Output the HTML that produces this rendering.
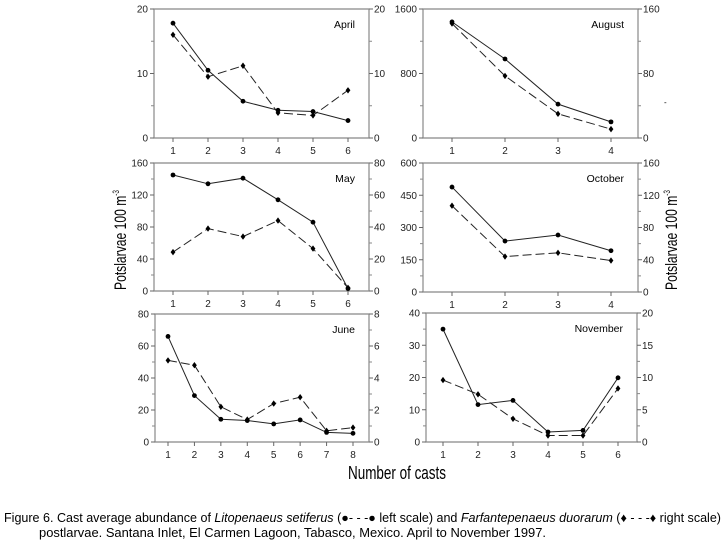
<!DOCTYPE html>
<html><head><meta charset="utf-8"><style>
html,body{margin:0;padding:0;background:#fff}
svg{display:block;font-family:"Liberation Sans Narrow","Liberation Sans",sans-serif}
</style></head><body>
<svg id="fig" width="724" height="546" viewBox="0 0 724 546">
<text x="397" y="479" font-size="18" text-anchor="middle" textLength="98" lengthAdjust="spacingAndGlyphs">Number of casts</text>
<text transform="translate(126,240) rotate(-90)" font-size="17" text-anchor="middle" textLength="100" lengthAdjust="spacingAndGlyphs">Potslarvae 100 m<tspan font-size="9" dy="-7">-3</tspan></text>
<text transform="translate(677,240) rotate(-90)" font-size="17" text-anchor="middle" textLength="100" lengthAdjust="spacingAndGlyphs">Potslarvae 100 m<tspan font-size="9" dy="-7">-3</tspan></text>
<text x="664" y="105" font-size="8">-</text>
<text x="4" y="522" font-size="12.5" textLength="717" lengthAdjust="spacingAndGlyphs">Figure 6. Cast average abundance of <tspan font-style="italic">Litopenaeus setiferus</tspan> (●- - -● left scale) and <tspan font-style="italic">Farfantepenaeus duorarum</tspan> (♦ - - -♦ right scale)</text>
<text x="39" y="537" font-size="12.5" textLength="507" lengthAdjust="spacingAndGlyphs">postlarvae. Santana Inlet, El Carmen Lagoon, Tabasco, Mexico. April to November 1997.</text>
</svg>
<script>
// ---- data ----
const aprilCats = [1,2,3,4,5,6];
const aprilLeft = [17.8,10.5,5.7,4.3,4.1,2.7];
const aprilRight = [16,9.5,11.2,3.9,3.5,7.4];
const aprilLeftTicks = [0,10,20];
const aprilRightTicks = [0,10,20];

const augustCats = [1,2,3,4];
const augustLeft = [1440,980,420,200];
const augustRight = [142,77,30,11];
const augustLeftTicks = [0,800,1600];
const augustRightTicks = [0,80,160];

const mayCats = [1,2,3,4,5,6];
const mayLeft = [145,134,141,114,86,3];
const mayRight = [24.3,39,34,44,26.5,2];
const mayLeftTicks = [0,40,80,120,160];
const mayRightTicks = [0,20,40,60,80];

const octoberCats = [1,2,3,4];
const octoberLeft = [488,237,265,192];
const octoberRight = [107,44,48.6,39];
const octoberLeftTicks = [0,150,300,450,600];
const octoberRightTicks = [0,40,80,120,160];

const juneCats = [1,2,3,4,5,6,7,8];
const juneLeft = [66,29,14.2,13.4,11.3,13.8,6,5.4];
const juneRight = [5.1,4.8,2.2,1.4,2.4,2.8,0.7,0.9];
const juneLeftTicks = [0,20,40,60,80];
const juneRightTicks = [0,2,4,6,8];

const novemberCats = [1,2,3,4,5,6];
const novemberLeft = [35,11.6,12.9,3.1,3.6,19.9];
const novemberRight = [9.6,7.4,3.6,1.0,1.0,8.3];
const novemberLeftTicks = [0,10,20,30,40];
const novemberRightTicks = [0,5,10,15,20];

const NS = 'http://www.w3.org/2000/svg';
const svg = document.getElementById('fig');
function mk(tag, attrs, parent){
  const e = document.createElementNS(NS, tag);
  for (const k in attrs) e.setAttribute(k, attrs[k]);
  (parent||svg).appendChild(e);
  return e;
}
function panel(name, box, cats, left, right, lt, rt, xFirst, xLast){
  const g = mk('g', {});
  
  
  const {l, r, t, b} = box;
  const lmax = lt[lt.length-1], rmax = rt[rt.length-1];
  const n = cats.length;
  const xs = c => xFirst + (c - cats[0]) * (xLast - xFirst) / (cats[n-1] - cats[0]);
  const yl = v => b - v / lmax * (b - t);
  const yr = v => b - v / rmax * (b - t);
  const frame = mk('path', {d:`M${l},${t}H${r}V${b}H${l}Z`, fill:'none', stroke:'#888', 'stroke-width':1.2}, g);
  
  
  for (let i = 0; i < lt.length; i++) {
    const y = yl(lt[i]);
    mk('line', {x1:l-4, x2:l, y1:y, y2:y, stroke:'#666'}, g);
    const tx = mk('text', {x:l-6, y:y+3.5, 'font-size':10, 'text-anchor':'end', fill:'#222'}, g);
    tx.textContent = lt[i];
    
    
    if (i < lt.length-1) { const ym = yl((lt[i]+lt[i+1])/2); mk('line', {x1:l-3, x2:l, y1:ym, y2:ym, stroke:'#888'}, g); }
  }
  for (let i = 0; i < rt.length; i++) {
    const y = yr(rt[i]);
    mk('line', {x1:r, x2:r+4, y1:y, y2:y, stroke:'#666'}, g);
    const tx = mk('text', {x:r+5, y:y+3.5, 'font-size':10, fill:'#222'}, g);
    tx.textContent = rt[i];
    
    
    if (i < rt.length-1) { const ym = yr((rt[i]+rt[i+1])/2); mk('line', {x1:r, x2:r+3, y1:ym, y2:ym, stroke:'#888'}, g); }
  }
  for (let i = 0; i < n; i++) {
    const x = xs(cats[i]);
    mk('line', {x1:x, x2:x, y1:b, y2:b+4, stroke:'#666'}, g);
    const tx = mk('text', {x:x, y:b+16, 'font-size':10, 'text-anchor':'middle', fill:'#222'}, g);
    tx.textContent = cats[i];
    
    
  }
  const ttl = mk('text', {x:r-14, y:t+19, 'font-size':10.5, 'text-anchor':'end'}, g);
  ttl.textContent = name.charAt(0).toUpperCase() + name.slice(1);
  
  
  const pl = left.map((v,i)=>xs(cats[i])+','+yl(v)).join(' ');
  const pr = right.map((v,i)=>xs(cats[i])+','+yr(v)).join(' ');
  const sd = mk('polyline', {points:pr, fill:'none', stroke:'#222', 'stroke-width':1, 'stroke-dasharray':'9,4'}, g);
  
  
  const ss = mk('polyline', {points:pl, fill:'none', stroke:'#222', 'stroke-width':1}, g);
  
  
  right.forEach((v,i)=>{
    const x = xs(cats[i]), y = yr(v);
    const d = mk('path', {d:`M${x},${y-3.2}L${x+2.4},${y}L${x},${y+3.2}L${x-2.4},${y}Z`, fill:'#000'}, g);
    
    
  });
  left.forEach((v,i)=>{
    const c = mk('circle', {cx:xs(cats[i]), cy:yl(v), r:2.4, fill:'#000'}, g);
    
    
  });
}
panel('april', {l:154,r:369,t:9,b:138}, aprilCats, aprilLeft, aprilRight, aprilLeftTicks, aprilRightTicks, 173, 348);
panel('august', {l:423,r:638,t:9,b:138}, augustCats, augustLeft, augustRight, augustLeftTicks, augustRightTicks, 452, 611);
panel('may', {l:154,r:369,t:163,b:291}, mayCats, mayLeft, mayRight, mayLeftTicks, mayRightTicks, 173, 348);
panel('october', {l:423,r:638,t:163,b:292}, octoberCats, octoberLeft, octoberRight, octoberLeftTicks, octoberRightTicks, 452, 611);
panel('june', {l:155,r:369,t:314,b:442}, juneCats, juneLeft, juneRight, juneLeftTicks, juneRightTicks, 168, 353);
panel('november', {l:426,r:637,t:313,b:442}, novemberCats, novemberLeft, novemberRight, novemberLeftTicks, novemberRightTicks, 443, 618);
</script>
</body></html>
